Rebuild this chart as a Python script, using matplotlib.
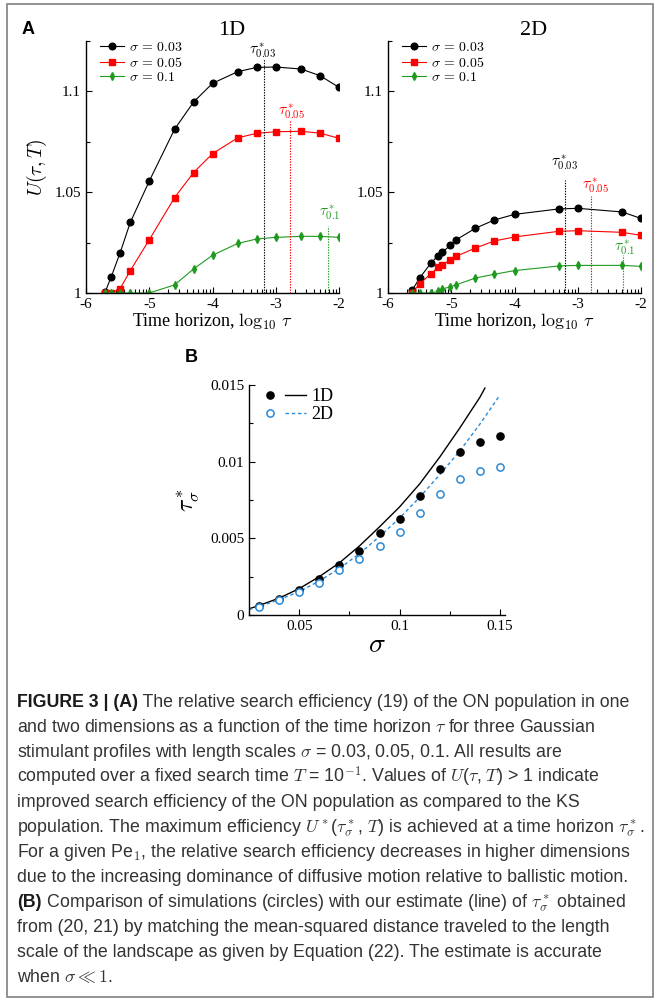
import numpy as np
import matplotlib
matplotlib.use("Agg")
from matplotlib import pyplot as plt
from matplotlib.ticker import FixedLocator, FormatStrFormatter
from matplotlib.legend_handler import HandlerTuple
from matplotlib.lines import Line2D
from matplotlib.patches import Rectangle

plt.rcParams["font.family"] = "serif"
plt.rcParams["font.serif"] = ["Liberation Serif", "DejaVu Serif"]
plt.rcParams["mathtext.fontset"] = "cm"
plt.rcParams["axes.unicode_minus"] = False

W, H = 654, 999

# panel A, 1D : log10(tau) and U(tau, T) for each sigma
logtau_1d = [-5.70, -5.60, -5.46, -5.30, -5.00, -4.60, -4.30, -4.00, -3.60, -3.30, -3.00, -2.60, -2.30, -2.00]
u1d_003 = [1.0003, 1.0081, 1.0200, 1.0350, 1.0555, 1.0812, 1.0947, 1.1040, 1.1098, 1.1119, 1.1121, 1.1111, 1.1078, 1.1020]
u1d_005 = [1.0000, 1.0000, 1.0022, 1.0111, 1.0264, 1.0473, 1.0597, 1.0691, 1.0770, 1.0792, 1.0800, 1.0802, 1.0793, 1.0767]
u1d_01 = [1.0000, 1.0000, 1.0000, 1.0000, 1.0000, 1.0040, 1.0119, 1.0187, 1.0246, 1.0268, 1.0276, 1.0281, 1.0281, 1.0276]

# panel A, 2D
logtau_2d = [-5.62, -5.50, -5.32, -5.21, -5.14, -5.02, -4.92, -4.62, -4.32, -4.00, -3.30, -3.00, -2.30, -2.00]
u2d_003 = [1.0013, 1.0074, 1.0149, 1.0185, 1.0202, 1.0236, 1.0264, 1.0321, 1.0362, 1.0390, 1.0417, 1.0420, 1.0402, 1.0370]
u2d_005 = [1.0000, 1.0045, 1.0096, 1.0127, 1.0137, 1.0165, 1.0182, 1.0223, 1.0258, 1.0278, 1.0306, 1.0309, 1.0301, 1.0286]
u2d_01 = [1.0000, 1.0000, 1.0000, 1.0008, 1.0020, 1.0030, 1.0041, 1.0074, 1.0093, 1.0111, 1.0134, 1.0137, 1.0137, 1.0132]

sigma_labels = ["0.03", "0.05", "0.1"]
colors = ["black", "#ff0000", "#1f9a1f"]
markers = ["o", "s", "d"]
msizes = [4.8, 4.2, 3.8]

# optimal horizons (dotted lines): x, top of line, label x, label y
tstar_1d_x = [-3.19, -2.77, -2.18]
tstar_1d_top = [1.1160, 1.0860, 1.0330]
tstar_1d_lx = [-3.20, -2.75, -2.14]
tstar_1d_ly = [1.1200, 1.0900, 1.0400]
tstar_2d_x = [-3.20, -2.79, -2.29]
tstar_2d_top = [1.0560, 1.0480, 1.0190]
tstar_2d_lx = [-3.20, -2.72, -2.25]
tstar_2d_ly = [1.0645, 1.0530, 1.0225]

# panel B
sigma = [0.03, 0.04, 0.05, 0.06, 0.07, 0.08, 0.09, 0.10, 0.11, 0.12, 0.13, 0.14, 0.15]
tau_sim_1d = [0.00056, 0.00104, 0.00165, 0.00234, 0.00326, 0.00419, 0.00532, 0.00623, 0.00779, 0.00949, 0.01064, 0.01129, 0.01166]
tau_sim_2d = [0.00050, 0.00096, 0.00148, 0.00206, 0.00291, 0.00367, 0.00452, 0.00540, 0.00662, 0.00786, 0.00886, 0.00938, 0.00966]
sigma_est_1d = [0.025, 0.03, 0.04, 0.05, 0.06, 0.07, 0.08, 0.09, 0.10, 0.11, 0.12, 0.13, 0.14, 0.1425]
tau_est_1d = [0.00040, 0.00062, 0.00110, 0.00172, 0.00250, 0.00340, 0.00450, 0.00575, 0.00705, 0.00855, 0.01030, 0.01220, 0.01420, 0.01480]
sigma_est_2d = [0.025, 0.03, 0.04, 0.05, 0.06, 0.07, 0.08, 0.09, 0.10, 0.11, 0.12, 0.13, 0.14, 0.15]
tau_est_2d = [0.00035, 0.00055, 0.00100, 0.00152, 0.00222, 0.00303, 0.00400, 0.00512, 0.00632, 0.00768, 0.00915, 0.01070, 0.01245, 0.01435]

fig = plt.figure(figsize=(W / 100, H / 100), dpi=100)


def px_axes(x0, y0, x1, y1):
    return fig.add_axes([x0 / W, 1 - y1 / H, (x1 - x0) / W, (y1 - y0) / H])


def style_axes(ax):
    for s in ["top", "right"]:
        ax.spines[s].set_visible(False)
    for s in ["left", "bottom"]:
        ax.spines[s].set_linewidth(1.0)
    ax.tick_params(which="both", direction="in", width=0.8)
    ax.tick_params(which="major", length=4.5)
    ax.tick_params(which="minor", length=3)


def panel_a(ax, x, ys, tx, ttop, lx, ly, title):
    for y, c, m, ms, lab in zip(ys, colors, markers, msizes, sigma_labels):
        ax.plot(x, y, color=c, marker=m, ms=ms, lw=0.8, label=r"$\sigma\,=\,%s$" % lab)
    for xv, top, c in zip(tx, ttop, colors):
        ax.plot([xv, xv], [1.0, top], color=c, lw=0.8, ls=(0, (1.2, 1.2)))
    for xv, yv, c, lab in zip(lx, ly, colors, sigma_labels):
        ax.text(xv, yv, r"$\tau^*_{%s}$" % lab, color=c, fontsize=11, ha="center", va="center")
    ax.set_xlim(-6, -2)
    ax.set_ylim(1, 1.125)
    ax.set_xticks([-6, -5, -4, -3, -2])
    ax.set_yticks([1, 1.05, 1.1])
    ax.yaxis.set_minor_locator(FixedLocator([1.025, 1.075, 1.125]))
    minor = [k + np.log10(m) for k in range(-6, -2) for m in range(2, 10)]
    ax.xaxis.set_minor_locator(FixedLocator(minor))
    ax.xaxis.set_major_formatter(FormatStrFormatter("%g"))
    ax.yaxis.set_major_formatter(FormatStrFormatter("%g"))
    ax.tick_params(labelsize=11)
    style_axes(ax)
    ax.set_xlabel(r"Time horizon, $\log_{10}\,\tau$", fontsize=13, labelpad=1)
    ax.text(-3.7, 1.1300, title, fontsize=16, ha="center", va="center")
    ax.legend(loc="upper left", bbox_to_anchor=(0.055, 1.0), frameon=False, fontsize=10,
              numpoints=1, handlelength=1.7, handletextpad=0.4, labelspacing=0.12,
              borderpad=0, borderaxespad=0)


ax1 = px_axes(86, 41, 339, 293)
panel_a(ax1, logtau_1d, [u1d_003, u1d_005, u1d_01], tstar_1d_x, tstar_1d_top,
        tstar_1d_lx, tstar_1d_ly, "1D")
ax1.set_ylabel(r"$U(\tau,T)$", fontsize=14, labelpad=4)

ax2 = px_axes(388, 41, 641, 293)
panel_a(ax2, logtau_2d, [u2d_003, u2d_005, u2d_01], tstar_2d_x, tstar_2d_top,
        tstar_2d_lx, tstar_2d_ly, "2D")

# panel B
blue = "#2a8ad8"
ax3 = px_axes(249, 385, 505, 615)
ax3.plot(sigma_est_1d, tau_est_1d, color="black", lw=1.0)
ax3.plot(sigma_est_2d, tau_est_2d, color=blue, lw=1.0, ls=(0, (2.5, 2)))
ax3.plot(sigma, tau_sim_1d, "o", color="black", ms=5.2)
ax3.plot(sigma, tau_sim_2d, "o", mfc="white", mec=blue, mew=1.1, ms=5.2)
ax3.set_xlim(0.025, 0.1525)
ax3.set_ylim(0, 0.015)
ax3.set_xticks([0.05, 0.1, 0.15])
ax3.set_yticks([0, 0.005, 0.01, 0.015])
ax3.xaxis.set_minor_locator(FixedLocator([0.025, 0.075, 0.125]))
ax3.yaxis.set_minor_locator(FixedLocator([0.0025, 0.0075, 0.0125]))
ax3.xaxis.set_major_formatter(FormatStrFormatter("%g"))
ax3.yaxis.set_major_formatter(FormatStrFormatter("%g"))
ax3.tick_params(labelsize=11)
style_axes(ax3)
ax3.set_xlabel(r"$\sigma$", fontsize=20, labelpad=0)
ax3.set_ylabel(r"$\tau^*_\sigma$", fontsize=17, labelpad=6)

h1 = (Line2D([], [], ls="none", marker="o", color="black", ms=5.2),
      Line2D([], [], color="black", lw=1.0))
h2 = (Line2D([], [], ls="none", marker="o", mfc="white", mec=blue, mew=1.1, ms=5.2),
      Line2D([], [], color=blue, lw=1.0, ls=(0, (2.5, 2))))
ax3.legend([h1, h2], ["1D", "2D"], handler_map={tuple: HandlerTuple(ndivide=None, pad=0.2)},
           loc="upper left", bbox_to_anchor=(0.04, 0.985), frameon=False, fontsize=13,
           handlelength=2.6, handletextpad=0.3, labelspacing=0.05, borderpad=0, borderaxespad=0)

# panel letters
fig.text(22 / W, 1 - 29 / H, "A", fontsize=13, fontweight="bold", family="Liberation Sans", va="center")
fig.text(185 / W, 1 - 357 / H, "B", fontsize=13, fontweight="bold", family="Liberation Sans", va="center")

# caption
caption = [
    [("FIGURE 3 | (A)", True), (" The relative search efficiency (19) of the ON population in one", False)],
    [(r"and two dimensions as a function of the time horizon $\tau$ for three Gaussian", False)],
    [(r"stimulant profiles with length scales $\sigma$ = 0.03, 0.05, 0.1. All results are", False)],
    [(r"computed over a fixed search time $T$ = 10$^{-1}$. Values of $U$($\tau$, $T$) > 1 indicate", False)],
    [("improved search efficiency of the ON population as compared to the KS", False)],
    [(r"population. The maximum efficiency $U^*$($\tau^*_\sigma$, $T$) is achieved at a time horizon $\tau^*_\sigma$.", False)],
    [(r"For a given Pe$_1$, the relative search efficiency decreases in higher dimensions", False)],
    [("due to the increasing dominance of diffusive motion relative to ballistic motion.", False)],
    [("(B)", True), (r" Comparison of simulations (circles) with our estimate (line) of $\tau^*_\sigma$ obtained", False)],
    [("from (20, 21) by matching the mean-squared distance traveled to the length", False)],
    [("scale of the landscape as given by Equation (22). The estimate is accurate", False)],
    [(r"when $\sigma \ll 1$.", False)],
]
renderer = fig.canvas.get_renderer()
for i, segs in enumerate(caption):
    x = 17 / W
    y = 1 - (707 + 25 * i) / H
    for txt, bold in segs:
        t = fig.text(x, y, txt, fontsize=12.8, family=["Liberation Sans", "DejaVu Sans"],
                     fontweight="bold" if bold else "normal",
                     color="#1a1a1a" if bold else "#333333", va="baseline")
        bb = t.get_window_extent(renderer=renderer)
        x = bb.x1 / fig.bbox.width

# frame around the figure
fig.add_artist(Rectangle((7 / W, 1 - 997 / H), 645.5 / W, 993 / H, transform=fig.transFigure,
                         fill=False, ec="#808080", lw=1.2))

fig.savefig("out.png", dpi=100)
